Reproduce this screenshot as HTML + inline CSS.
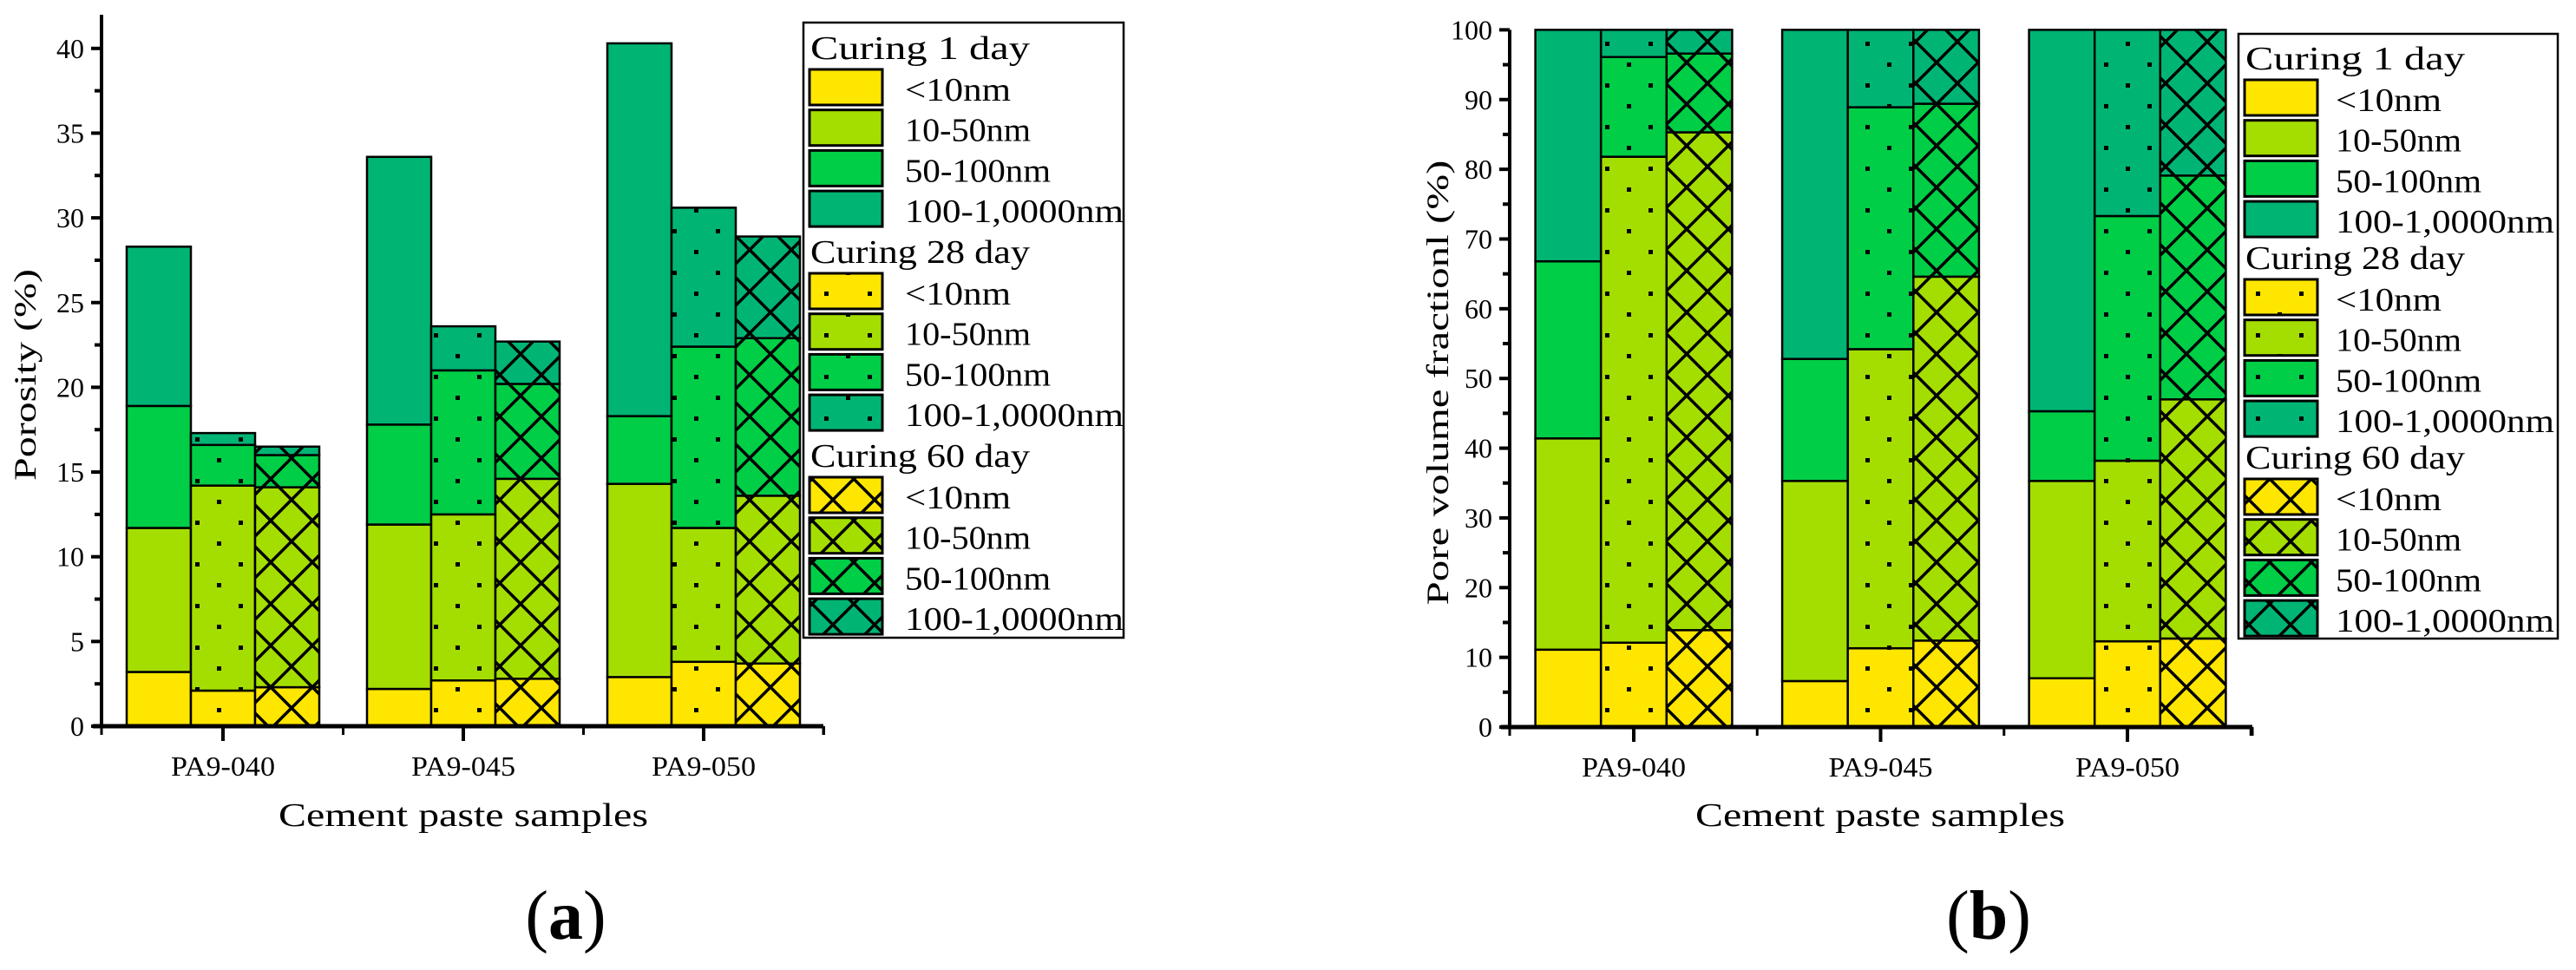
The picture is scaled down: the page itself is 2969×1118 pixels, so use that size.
<!DOCTYPE html>
<html><head><meta charset="utf-8"><style>
html,body{margin:0;padding:0;background:#fff;}
svg{display:block;}
text{font-family:"Liberation Serif",serif;fill:#000;}
</style></head><body>
<svg id="fig" width="2969" height="1118" viewBox="0 0 2969 1118" xmlns="http://www.w3.org/2000/svg">
<defs id="defs"></defs>
</svg>
<script>
const categories = ["PA9-040","PA9-045","PA9-050"];
const sizeClasses = ["<10nm","10-50nm","50-100nm","100-1,0000nm"];
const curingLabels = ["Curing 1 day","Curing 28 day","Curing 60 day"];
// (a) porosity segments [<10, 10-50, 50-100, 100-10000] per sample
const porosityDay1 = [[3.2,8.5,7.2,9.4],[2.2,9.7,5.9,15.8],[2.9,11.4,4.0,22.0]];
const porosityDay28 = [[2.1,12.1,2.4,0.7],[2.7,9.8,8.5,2.6],[3.8,7.9,10.7,8.2]];
const porosityDay60 = [[2.3,11.8,1.9,0.5],[2.8,11.8,5.6,2.5],[3.7,9.9,9.3,6.0]];
// (b) pore volume fraction segments
const fractionDay1 = [[11.1,30.3,25.4,33.2],[6.6,28.7,17.5,47.2],[7.0,28.3,10.0,54.7]];
const fractionDay28 = [[12.1,69.7,14.3,3.9],[11.3,42.9,34.7,11.1],[12.3,25.9,35.1,26.7]];
const fractionDay60 = [[13.9,71.4,11.3,3.4],[12.4,52.2,24.8,10.6],[12.7,34.3,32.1,20.9]];
const ticksA = [0,5,10,15,20,25,30,35,40];
const ticksB = [0,10,20,30,40,50,60,70,80,90,100];

const NS="http://www.w3.org/2000/svg";
const svg=document.getElementById('fig');
const defs=document.getElementById('defs');
const colors=["#FFE600","#A4DE00","#00CE46","#00B574"];
function el(tag,attrs,parent){const e=document.createElementNS(NS,tag);for(const k in attrs)e.setAttribute(k,attrs[k]);(parent||svg).appendChild(e);return e;}

colors.forEach((c,ci)=>{
  let p=el('pattern',{id:'dot'+ci,patternUnits:'userSpaceOnUse',width:50,height:48},defs);
  el('rect',{width:50,height:48,fill:c},p);
  el('rect',{x:0,y:0,width:5,height:5,fill:'#000'},p);
  el('rect',{x:25,y:24,width:5,height:5,fill:'#000'},p);
  let q=el('pattern',{id:'hat'+ci,patternUnits:'userSpaceOnUse',width:48,height:48},defs);
  el('rect',{width:48,height:48,fill:c},q);
  el('path',{d:'M0,48 L48,0 M-10,10 L10,-10 M38,58 L58,38',stroke:'#000','stroke-width':3.5},q);
  el('path',{d:'M0,0 L48,48 M-10,38 L10,58 M38,-10 L58,10',stroke:'#000','stroke-width':3.5},q);
});
function fillFor(day,ci){return day===0?colors[ci]:(day===1?'url(#dot'+ci+')':'url(#hat'+ci+')');}

function drawChart(cfg){
  const g=el('g',{});
  
  
  const y=v=>cfg.y0-(v-cfg.ymin)*(cfg.y0-cfg.yTop)/(cfg.ymax-cfg.ymin);
  const cx=i=>cfg.c0+i*cfg.step;
  const series=[cfg.d1,cfg.d28,cfg.d60];
  categories.forEach((cat,i)=>{
    series.forEach((data,d)=>{
      let acc=0;
      const left=cx(i)-cfg.bw*1.5+d*cfg.bw;
      data[i].forEach((v,s)=>{
        const r=el('rect',{x:left,y:y(acc+v),width:cfg.bw,height:y(acc)-y(acc+v),fill:fillFor(d,s),stroke:'#000','stroke-width':2.5},g);
        
        
        acc+=v;
      });
    });
  });
  const ax=el('line',{x1:cfg.x0,y1:cfg.y0,x2:cfg.x0,y2:cfg.axTop,stroke:'#000','stroke-width':4},g);
  
  const bx=el('line',{x1:cfg.x0-10,y1:cfg.y0,x2:cfg.x1,y2:cfg.y0,stroke:'#000','stroke-width':5},g);
  
  cfg.ticks.forEach((t,k)=>{
    el('line',{x1:cfg.x0-12,y1:y(t),x2:cfg.x0,y2:y(t),stroke:'#000','stroke-width':4},g);
    if(k<cfg.ticks.length-1){const m=(t+cfg.ticks[k+1])/2;el('line',{x1:cfg.x0-8,y1:y(m),x2:cfg.x0,y2:y(m),stroke:'#000','stroke-width':4},g);}
    const tl=el('text',{x:cfg.x0-20,y:y(t)+11,'font-size':32,'text-anchor':'end'},g);
    tl.textContent=t;
    
  });
  categories.forEach((cat,i)=>{
    el('line',{x1:cx(i),y1:cfg.y0,x2:cx(i),y2:cfg.y0+17,stroke:'#000','stroke-width':4},g);
    el('line',{x1:cx(i)+cfg.step/2,y1:cfg.y0,x2:cx(i)+cfg.step/2,y2:cfg.y0+10,stroke:'#000','stroke-width':3},g);
    const t=el('text',{x:cx(i),y:cfg.y0+57,'font-size':32,'text-anchor':'middle',textLength:120,lengthAdjust:'spacingAndGlyphs'},g);
    t.textContent=cat;
    
  });
  el('line',{x1:cfg.x0,y1:cfg.y0,x2:cfg.x0,y2:cfg.y0+10,stroke:'#000','stroke-width':3},g);
  el('line',{x1:cfg.x1,y1:cfg.y0,x2:cfg.x1,y2:cfg.y0+10,stroke:'#000','stroke-width':3},g);
  const xt=el('text',{x:cfg.xTitleX,y:952,'font-size':38,'text-anchor':'middle',textLength:426,lengthAdjust:'spacingAndGlyphs'},g);
  xt.textContent='Cement paste samples';
  
  const yt=el('text',{x:0,y:0,'font-size':36,'text-anchor':'middle',textLength:cfg.yTitleLen,lengthAdjust:'spacingAndGlyphs',transform:'translate('+(cfg.yTitleX+12)+','+cfg.yTitleY+') rotate(-90)'},g);
  yt.textContent=cfg.yTitle;
  
  const L=el('g',{},g);
  
  el('rect',{x:cfg.lx,y:cfg.ly,width:cfg.lw,height:cfg.lh,fill:'#fff',stroke:'#000','stroke-width':2.5},L);
  curingLabels.forEach((lab,d)=>{
    const base=cfg.lHead+d*cfg.lPitch;
    const h=el('text',{x:cfg.lx+8,y:base,'font-size':38,textLength:253,lengthAdjust:'spacingAndGlyphs'},L);
    h.textContent=lab;
    
    sizeClasses.forEach((sc,s)=>{
      const top=base+12+s*46.7;
      const r=el('rect',{x:cfg.lx+7,y:top,width:84,height:41,fill:fillFor(d,s),stroke:'#000','stroke-width':3},L);
      
      const t=el('text',{x:cfg.lx+cfg.lTextOff,y:top+36,'font-size':38},L);
      t.textContent=sc;
      t.setAttribute('textLength',[122,145,168,252][s]);
      t.setAttribute('lengthAdjust','spacingAndGlyphs');
      
    });
  });
  const pl=el('text',{x:cfg.panelX,y:1082,'font-size':80,'text-anchor':'middle'},g);
  pl.innerHTML='(<tspan font-weight="bold">'+cfg.panel+'</tspan>)';
  
}

drawChart({name:'chart-a-porosity',d1:porosityDay1,d28:porosityDay28,d60:porosityDay60,ticks:ticksA,
  ymin:0,ymax:40,y0:837,yTop:55.8,axTop:17,x0:117,x1:949,c0:257,step:277,bw:74,
  xTitleX:534,yTitle:'Porosity (%)',yTitleX:29,yTitleY:432,yTitleLen:244,
  lx:926,ly:26,lw:369,lh:709,lHead:68,lPitch:235,lTextOff:117,panel:'a',panelX:652});
drawChart({name:'chart-b-pore-volume-fraction',d1:fractionDay1,d28:fractionDay28,d60:fractionDay60,ticks:ticksB,
  ymin:0,ymax:100,y0:838,yTop:34.4,axTop:34.4,x0:1740,x1:2596,c0:1883,step:284.5,bw:75.6,
  xTitleX:2167,yTitle:'Pore volume fractionl (%)',yTitleX:1657,yTitleY:441,yTitleLen:513,
  lx:2580,ly:39,lw:368,lh:697,lHead:80,lPitch:230,lTextOff:112,panel:'b',panelX:2292});
</script>
</body></html>
